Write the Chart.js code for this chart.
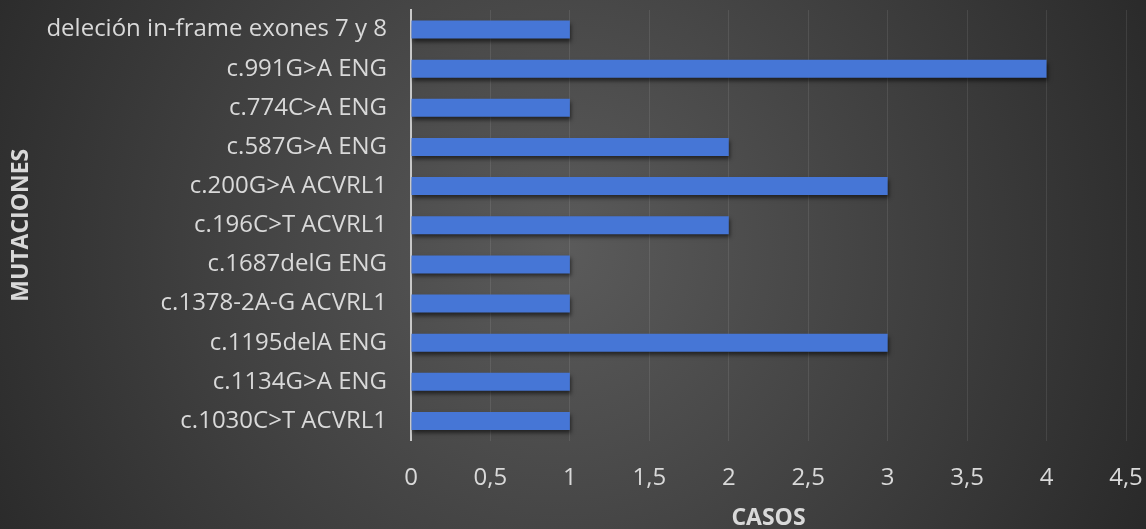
<!DOCTYPE html>
<html><head><meta charset="utf-8">
<script src="https://cdn.jsdelivr.net/npm/chart.js@4"></script>
<style>html,body{margin:0;padding:0;background:#3a3a3a}#wrap{width:1146px;height:529px}</style>
</head><body><div id="wrap"><canvas id="c" width="1146" height="529"></canvas></div>
<script>
const categories = ["deleción in-frame exones 7 y 8","c.991G>A ENG","c.774C>A ENG","c.587G>A ENG","c.200G>A ACVRL1","c.196C>T ACVRL1","c.1687delG ENG","c.1378-2A-G ACVRL1","c.1195delA ENG","c.1134G>A ENG","c.1030C>T ACVRL1"];
const casos = [1,4,1,2,3,2,1,1,3,1,1];
const xTitle = "CASOS";
const yTitle = "MUTACIONES";

const bgPlugin = {
  id:'bg',
  beforeDraw(chart){
    const ctx = chart.ctx, w = chart.width, h = chart.height;
    const g = ctx.createRadialGradient(560,250,0,560,250,720);
    g.addColorStop(0,'#5b5b5b');
    g.addColorStop(1,'#242424');
    ctx.save(); ctx.fillStyle = g; ctx.fillRect(0,0,w,h); ctx.restore();
  }
};
const shadowPlugin = {
  id:'shadow',
  beforeDatasetsDraw(chart){ const ctx=chart.ctx; ctx.save(); ctx.shadowColor='rgba(0,0,0,0.55)'; ctx.shadowBlur=4; ctx.shadowOffsetY=3; ctx.shadowOffsetX=1; },
  afterDatasetsDraw(chart){ chart.ctx.restore(); }
};

new Chart(document.getElementById('c'), {
  type:'bar',
  data:{ labels:categories, datasets:[{ data:casos, backgroundColor:'#4676d6', borderWidth:0, categoryPercentage:1, barPercentage:0.46 }]},
  plugins:[bgPlugin, shadowPlugin],
  options:{
    indexAxis:'y', responsive:false, animation:false, devicePixelRatio:1,
    layout:{ padding:{ top:10, right:20, bottom:0, left:0 } },
    plugins:{ legend:{display:false}, tooltip:{enabled:false} },
    scales:{
      x:{ min:0, max:4.5,
        ticks:{ stepSize:0.5, color:'#d9d9d9', padding:23, font:{family:'Open Sans', size:24} ,
          callback:(v)=>String(v).replace('.',',') },
        grid:{ color:'rgba(255,255,255,0.09)', drawTicks:false, lineWidth:1 },
        border:{ display:false },
        title:{ display:true, text:xTitle, color:'#d9d9d9', font:{family:'Open Sans', size:23, weight:'bold'}, padding:{top:0,bottom:-3} },
        afterFit(s){ s.height = 88.5; s.paddingLeft = 0; s.paddingRight = 0; }
      },
      y:{
        ticks:{ color:'#d9d9d9', padding:24, font:{family:'Open Sans', size:24} },
        grid:{ display:false, drawTicks:false },
        border:{ display:true, color:'#c8c8c8', width:2 },
        title:{ display:true, text:yTitle, color:'#d9d9d9', font:{family:'Open Sans', size:23, weight:'bold'}, padding:{top:8,bottom:0} },
        afterFit(s){ s.width = 411; s.paddingTop = 0; s.paddingBottom = 0; }
      }
    }
  }
});
</script></body></html>
